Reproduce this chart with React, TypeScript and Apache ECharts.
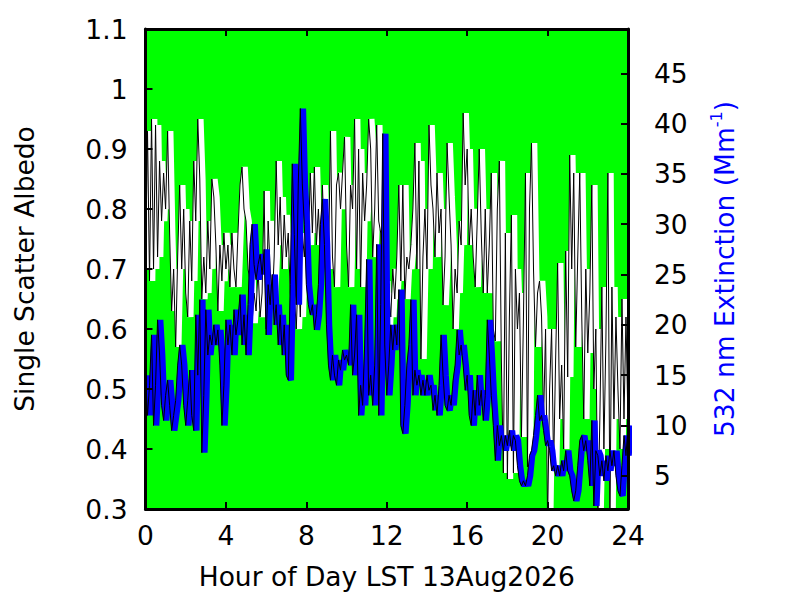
import React, { useEffect, useRef } from "react";
import * as echarts from "echarts";

const FONT = "DejaVu Sans";

// Sample times: every 0.1 hour from 0 to 24 LST
const hourStart = 0;
const hourStep = 0.1;

// Single scatter albedo (left axis)
const albedo = [
  0.70, 0.93, 0.68, 0.95, 0.70, 0.94, 0.72, 0.88, 0.78, 0.86,
  0.80, 0.93, 0.76, 0.63, 0.70, 0.57, 0.72, 0.84, 0.70, 0.80,
  0.66, 0.62, 0.78, 0.68, 0.88, 0.78, 0.95, 0.85, 0.65, 0.72,
  0.66, 0.78, 0.70, 0.85, 0.82, 0.74, 0.63, 0.74, 0.68, 0.76,
  0.70, 0.74, 0.67, 0.76, 0.70, 0.67, 0.76, 0.84, 0.87, 0.80,
  0.78, 0.70, 0.68, 0.61, 0.66, 0.63, 0.70, 0.62, 0.66, 0.83,
  0.60, 0.78, 0.70, 0.64, 0.72, 0.88, 0.74, 0.82, 0.70, 0.79,
  0.72, 0.76, 0.66, 0.62, 0.66, 0.60, 0.70, 0.62, 0.76, 0.72,
  0.78, 0.74, 0.86, 0.76, 0.87, 0.74, 0.80, 0.72, 0.84, 0.74,
  0.80, 0.70, 0.93, 0.72, 0.67, 0.84, 0.86, 0.80, 0.86, 0.92,
  0.74, 0.67, 0.84, 0.80, 0.95, 0.70, 0.90, 0.67, 0.86, 0.78,
  0.84, 0.95, 0.90, 0.72, 0.80, 0.94, 0.78, 0.76, 0.60, 0.68,
  0.58, 0.66, 0.62, 0.70, 0.65, 0.72, 0.84, 0.68, 0.84, 0.65,
  0.72, 0.70, 0.74, 0.80, 0.91, 0.70, 0.88, 0.55, 0.72, 0.80,
  0.70, 0.94, 0.84, 0.80, 0.72, 0.86, 0.76, 0.80, 0.64, 0.72,
  0.91, 0.82, 0.74, 0.60, 0.70, 0.66, 0.78, 0.74, 0.96, 0.84,
  0.90, 0.74, 0.80, 0.72, 0.67, 0.78, 0.90, 0.76, 0.66, 0.80,
  0.66, 0.74, 0.86, 0.60, 0.58, 0.80, 0.88, 0.55, 0.36, 0.76,
  0.35, 0.62, 0.79, 0.36, 0.70, 0.60, 0.66, 0.42, 0.62, 0.86,
  0.37, 0.80, 0.91, 0.70, 0.57, 0.66, 0.68, 0.62, 0.45, 0.60,
  0.28, 0.50, 0.60, 0.37, 0.55, 0.71, 0.45, 0.54, 0.40, 0.73,
  0.52, 0.89, 0.70, 0.86, 0.57, 0.72, 0.86, 0.62, 0.45, 0.70,
  0.56, 0.66, 0.84, 0.50, 0.60, 0.28, 0.45, 0.67, 0.40, 0.58,
  0.86, 0.28, 0.67, 0.45, 0.62, 0.50, 0.40, 0.65, 0.45, 0.62,
  0.44,
];

// 532 nm extinction, Mm^-1 (right axis)
const extinction = [
  15, 11, 14, 19, 10, 14, 20.5, 17, 12, 10.5,
  13, 14.5, 12, 9.5, 11, 12.5, 16, 18, 16, 12,
  10, 12.5, 15.5, 11, 9.5, 21, 15, 22.5, 7.3, 13,
  21.5, 17, 19, 18, 20, 18, 19.5, 16, 10, 14,
  20.5, 18, 20, 17, 21.5, 19, 20.5, 23, 18, 21,
  17, 22, 28, 30, 26, 24.5, 26, 27, 25, 27.5,
  19, 24, 22, 25, 20, 22, 18, 21, 17, 20,
  15, 14.5, 24, 36, 29, 22, 34, 41.5, 34, 30,
  24, 22, 21, 22, 19.5, 21, 24, 30, 32.5, 28,
  20, 16, 14.5, 17, 15, 14, 16.5, 15.5, 17.5, 16.5,
  17, 16, 22, 15, 17, 21, 11, 14, 12, 18,
  26.5, 13, 15, 12, 16, 28, 11, 22, 39, 18,
  13, 16, 20, 17.5, 20, 18, 23.5, 10, 9.2, 12,
  16, 18, 22.5, 13, 15.5, 14, 15, 13, 14.5, 13,
  15, 13.5, 14, 11.5, 13, 11, 14, 19, 15, 12,
  11.5, 13, 12, 14.5, 16, 19.5, 17, 18, 16, 13.5,
  15, 11, 10, 13.5, 11, 15, 12, 13.5, 10.5, 13,
  20.5, 17, 13, 10, 6.5, 10, 8, 9, 7.5, 9,
  8, 9.5, 7.5, 9, 8.5, 6, 4.5, 4, 4.5, 4,
  5, 7, 7.5, 9, 11, 13, 10.5, 11, 9.5, 8,
  8.5, 7.5, 5.5, 6, 5, 6, 5, 6.5, 5.5, 7.5,
  5.5, 5, 3.5, 2.5, 3.5, 6, 8.5, 9, 7.5, 8.5,
  6.5, 4, 10.5, 2, 7.5, 7, 5, 6.5, 4.5, 7,
  5.5, 7.5, 6, 7.5, 5, 3.5, 3, 6, 9, 7,
  10,
];

const extinctionTicks = [5, 10, 15, 20, 25, 30, 35, 40, 45];

// the thick coloured traces sit slightly right of the thin black traces
const traceShiftHours = 0.14;

export default function App() {
  const ref = useRef<HTMLDivElement>(null);

  useEffect(() => {
    if (!ref.current) return;
    const chart = echarts.init(ref.current, null, { renderer: "svg" });
    const pairs = (vals: number[]) => vals.map((v, i) => [hourStart + i * hourStep, v]);

    const axisLine = { show: true, onZero: false, lineStyle: { color: "#000", width: 3 } };
    const tick = { show: true, inside: true, length: 7, lineStyle: { color: "#000", width: 2 } };
    const label = { color: "#000", fontSize: 26.5, fontFamily: FONT };

    chart.setOption({
      animation: false,
      backgroundColor: "#ffffff",
      textStyle: { fontFamily: FONT },
      grid: {
        left: 145.5,
        right: 172,
        top: 29,
        bottom: 91,
        show: true,
        backgroundColor: "#00ff00",
        borderWidth: 0,
      },
      xAxis: [
        {
          type: "value",
          position: "bottom",
          min: 0,
          max: 24,
          interval: 4,
          axisLine,
          axisTick: tick,
          axisLabel: { ...label, margin: 13 },
          splitLine: { show: false },
          name: "Hour of Day LST 13Aug2026",
          nameLocation: "middle",
          nameGap: 54,
          nameTextStyle: { color: "#000", fontSize: 26.5, fontFamily: FONT },
          z: 10,
        },
        {
          type: "value",
          position: "top",
          min: 0,
          max: 24,
          interval: 4,
          axisLine,
          axisTick: tick,
          axisLabel: { show: false },
          splitLine: { show: false },
          z: 10,
        },
        {
          type: "value",
          show: false,
          min: -traceShiftHours,
          max: 24 - traceShiftHours,
          splitLine: { show: false },
        },
      ],
      yAxis: [
        {
          type: "value",
          position: "left",
          min: 0.3,
          max: 1.1,
          interval: 0.1,
          axisLine,
          axisTick: tick,
          axisLabel: { ...label, margin: 18 },
          splitLine: { show: false },
          name: "Single Scatter Albedo",
          nameLocation: "middle",
          nameGap: 108,
          nameTextStyle: { color: "#000", fontSize: 26.5, fontFamily: FONT },
          z: 10,
        },
        {
          type: "value",
          position: "right",
          min: 1.7,
          max: 49.4,
          axisLine,
          axisTick: { ...tick, customValues: extinctionTicks },
          axisLabel: { ...label, margin: 26, customValues: extinctionTicks },
          splitLine: { show: false },
          name: "{t|532 nm Extinction (Mm}{s|-1}{t|)}",
          nameLocation: "middle",
          nameGap: 80,
          nameRotate: 90,
          nameTextStyle: {
            color: "#0000ff",
            fontSize: 26.5,
            fontFamily: FONT,
            rich: {
              t: { color: "#0000ff", fontSize: 26.5, fontFamily: FONT, lineHeight: 32 },
              s: { color: "#0000ff", fontSize: 16, fontFamily: FONT, verticalAlign: "top", lineHeight: 32 },
            },
          },
          z: 10,
        },
      ],
      series: [
        {
          type: "line",
          xAxisIndex: 2,
          yAxisIndex: 0,
          data: pairs(albedo),
          symbol: "none",
          silent: true,
          lineStyle: { color: "#ffffff", width: 6 },
          z: 2,
        },
        {
          type: "line",
          xAxisIndex: 0,
          yAxisIndex: 0,
          data: pairs(albedo),
          symbol: "none",
          silent: true,
          lineStyle: { color: "#000000", width: 1 },
          z: 3,
        },
        {
          type: "line",
          xAxisIndex: 2,
          yAxisIndex: 1,
          data: pairs(extinction),
          symbol: "none",
          silent: true,
          lineStyle: { color: "#0000ff", width: 6 },
          z: 4,
        },
        {
          type: "line",
          xAxisIndex: 0,
          yAxisIndex: 1,
          data: pairs(extinction),
          symbol: "none",
          silent: true,
          lineStyle: { color: "#000000", width: 1 },
          z: 5,
        },
      ],
    });

    return () => chart.dispose();
  }, []);

  return (
    <div
      ref={ref}
      style={{ position: "absolute", left: 0, top: 0, width: 800, height: 600 }}
    />
  );
}
